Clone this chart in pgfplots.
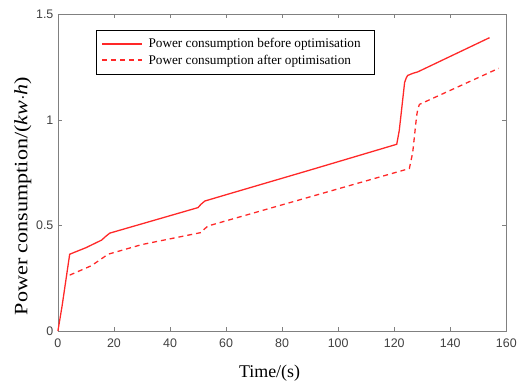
\documentclass[border=0pt]{standalone}
\usepackage{fontspec}
\setmainfont{Liberation Serif}
\setsansfont{Liberation Sans}
\usepackage{pgfplots}
\pgfplotsset{compat=1.18}
\definecolor{myred}{RGB}{255,40,40}
\definecolor{axgray}{RGB}{128,128,128}
\begin{document}
\begin{tikzpicture}
\begin{axis}[
  scale only axis,
  width=449bp, height=317bp,
  xmin=0, xmax=160, ymin=0, ymax=1.5,
  xtick={0,20,...,160}, ytick={0,0.5,1,1.5},
  yticklabels={0,0.5,1,1.5},
  tick align=inside,
  major tick length=4bp,
  axis line style={axgray, line width=0.8pt},
  every tick/.style={axgray, line width=0.6pt},
  tick label style={font=\fontsize{12.5}{14}\sffamily, text=black!75},
  /pgf/number format/assume math mode=true,
  xticklabel style={yshift=-4bp},
  yticklabel style={xshift=-1bp},
  xlabel={Time/(s)},
  ylabel={\scalebox{1.17}[1]{Power consumption/(\textit{kw}$\cdot$\textit{h})}},
  xlabel style={font=\fontsize{18}{20}\selectfont, at={(ticklabel cs:0.472)}, yshift=-11bp},
  ylabel style={font=\fontsize{19}{21}\selectfont, at={(ticklabel cs:0.427)}, yshift=-2bp},
  legend style={at={(axis description cs:0.0846,0.9525)}, anchor=north west,
    draw=black, line width=0.9pt, font=\fontsize{13.3}{15}\selectfont,
    inner xsep=5pt, inner ysep=6.5pt, row sep=1.5pt, cells={anchor=west}},
  legend image code/.code={\draw[#1, line width=1.5pt] (0bp,0bp) -- (40bp,0bp); \path (44bp,0bp);},
  legend cell align=left,
  clip=false,
]
\addplot[myred, line width=1.3pt] coordinates {
 (0,0) (1.5,0.12) (4.2,0.364) (10,0.395) (15.6,0.431) (17,0.448) (18.5,0.464)
 (50,0.585) (51,0.600) (52.4,0.616) (61.3,0.651) (90,0.763) (120.9,0.885)
 (121.8,0.95) (123.7,1.177) (124.3,1.200) (124.8,1.211) (126.6,1.221)
 (128.4,1.228) (154,1.39)
};
\addlegendentry{Power consumption before optimisation\kern7bp}
\addplot[myred, line width=1.3pt, dash pattern=on 5pt off 4pt] coordinates {
 (4.2,0.265) (12,0.31) (17.9,0.364) (30,0.410) (51.2,0.467) (52.3,0.484)
 (53.6,0.498) (90,0.636) (125.4,0.77) (126.6,0.846) (128.0,1.02) (128.4,1.05)
 (129,1.074) (157.3,1.245)
};
\addlegendentry{Power consumption after optimisation}
\end{axis}
\path[use as bounding box] ([xshift=-58bp,yshift=-49bp]current axis.south west) rectangle ([xshift=13bp,yshift=14.5bp]current axis.north east);
\end{tikzpicture}
\end{document}
